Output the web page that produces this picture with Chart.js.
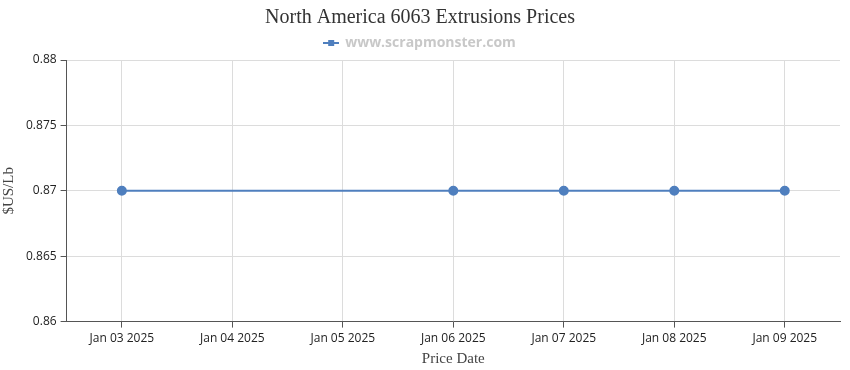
<!DOCTYPE html>
<html lang="en">
<head>
  <meta charset="utf-8" />
  <title>North America 6063 Extrusions Prices</title>
  <script src="https://cdn.jsdelivr.net/npm/chart.js"></script>
  <style>
    * { box-sizing: border-box; margin: 0; padding: 0; }
    body { background: #fff; }
    .chart-box { width: 850px; height: 370px; }
  </style>
</head>
<body>
  <div class="chart-box"><canvas id="priceChart"></canvas></div>

  <script>
    const dates = ['Jan 03 2025', 'Jan 04 2025', 'Jan 05 2025', 'Jan 06 2025', 'Jan 07 2025', 'Jan 08 2025', 'Jan 09 2025'];
    const prices = [0.87, null, null, 0.87, 0.87, 0.87, 0.87];
    const yTicks = [0.86, 0.865, 0.87, 0.875, 0.88];

    const lineColor = '#4f7fbe';
    const serif = "'Liberation Serif', 'Times New Roman', serif";
    const sans = "'Open Sans', Arial, sans-serif";

    // legend icon: short line with a square marker in the middle
    const legendIcon = document.createElement('canvas');
    legendIcon.width = 16;
    legendIcon.height = 8;
    const ic = legendIcon.getContext('2d');
    ic.fillStyle = lineColor;
    ic.fillRect(0, 3, 16, 2);
    ic.fillRect(5, 1, 6, 6);

    new Chart('priceChart', {
      type: 'line',
      data: {
        labels: dates,
        datasets: [{
          label: 'www.scrapmonster.com',
          data: prices,
          borderColor: lineColor,
          backgroundColor: lineColor,
          borderWidth: 2,
          pointRadius: 4,
          pointHoverRadius: 5,
          spanGaps: true,
          tension: 0
        }]
      },
      options: {
        responsive: true,
        maintainAspectRatio: false,
        animation: false,
        layout: { padding: { left: 0, right: 10, top: 4, bottom: 2 } },
        plugins: {
          title: {
            display: true,
            text: 'North America 6063 Extrusions Prices',
            color: '#333',
            font: { family: serif, size: 20, weight: 'normal' },
            padding: { top: 2, bottom: 0 }
          },
          legend: {
            display: true,
            labels: {
              color: '#c8c8c8',
              font: { family: sans, size: 14, weight: 'bold' },
              usePointStyle: true,
              pointStyle: legendIcon,
              padding: 6
            }
          },
          tooltip: { enabled: true }
        },
        scales: {
          x: {
            offset: true,
            grid: { color: '#dcdcdc', tickColor: '#555', tickLength: 6, offset: false },
            border: { color: '#555' },
            ticks: { color: '#222', font: { family: sans, size: 12 }, maxRotation: 0, padding: 4 },
            title: { display: true, text: 'Price Date', color: '#444', font: { family: serif, size: 15 }, padding: { top: 0, bottom: 0 } }
          },
          y: {
            min: yTicks[0],
            max: yTicks[yTicks.length - 1],
            afterBuildTicks: axis => { axis.ticks = yTicks.map(v => ({ value: v })); },
            grid: { color: '#dcdcdc', tickColor: '#555', tickLength: 6 },
            border: { color: '#555' },
            ticks: { color: '#222', font: { family: sans, size: 12 }, padding: 4, callback: v => String(v) },
            title: { display: true, text: '$US/Lb', color: '#444', font: { family: serif, size: 15 }, padding: { top: 0, bottom: 4 } }
          }
        }
      }
    });
  </script>
</body>
</html>
